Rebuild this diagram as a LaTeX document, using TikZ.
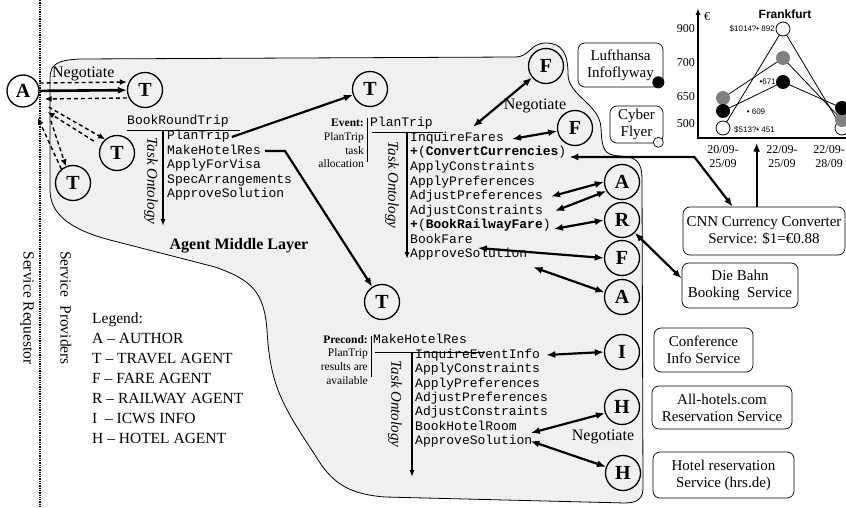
\documentclass[tikz,border=0pt]{standalone}
\usepackage{fontspec}
\setmainfont{Liberation Serif}
\setsansfont{Liberation Sans}
\setmonofont{Liberation Mono}
\usetikzlibrary{arrows.meta}

\tikzset{
  agent/.style={circle, draw, line width=1.3pt, minimum size=35pt, inner sep=0pt,
    font=\fontsize{20}{20}\selectfont\bfseries},
  service/.style={draw, line width=0.7pt, rounded corners=7pt, align=center, inner sep=0pt,
    font=\fontsize{15}{17}\selectfont},
  task/.style={anchor=west, inner sep=0pt, text height=9pt, text depth=3pt,
    font=\fontsize{13}{13}\selectfont\ttfamily},
  onto/.style={rotate=-90, inner sep=0pt, font=\fontsize{15}{15}\selectfont\itshape},
  sidenote/.style={anchor=north east, align=right, inner sep=0pt, font=\fontsize{11.5}{13.7}\selectfont},
  bigtext/.style={font=\fontsize{15.5}{20}\selectfont},
  chartlbl/.style={inner sep=0pt, font=\fontsize{12}{14}\selectfont},
  pricelbl/.style={inner sep=0pt, font=\sffamily\fontsize{8}{8}\selectfont},
  link/.style={line width=2.2pt, {Latex[length=9pt,width=7pt]}-{Latex[length=9pt,width=7pt]}},
  oneway/.style={line width=2.2pt, -{Latex[length=9pt,width=7pt]}},
  negline/.style={line width=1.4pt, dash pattern=on 4pt off 3pt, -{Latex[length=7pt,width=6pt]}},
  ontoarrow/.style={line width=1.3pt, -{Latex[length=7pt,width=5pt]}},
}

\begin{document}
\begin{tikzpicture}[x=1pt,y=-1pt]
\useasboundingbox (0,0) rectangle (846,508);

% agent middle layer
\filldraw[fill=black!6, line width=0.8pt]
  (50,78) .. controls (50,64) and (58,60) .. (80,59)
  -- (515,57)
  .. controls (530,57) and (530,43) .. (546,43)
  .. controls (563,43) and (568,55) .. (568,74)
  .. controls (568,96) and (600,104) .. (601,128)
  .. controls (602,150) and (604,155) .. (620,156)
  .. controls (637,157) and (642,162) .. (642,180)
  -- (643,488)
  .. controls (643,498) and (638,503) .. (625,503)
  -- (385,497)
  .. controls (345,494) and (330,480) .. (315,455)
  .. controls (282,405) and (270,385) .. (267,330)
  .. controls (264,292) and (252,280) .. (215,267)
  -- (110,240)
  .. controls (72,230) and (50,215) .. (50,190)
  -- cycle;
\node[font=\fontsize{16}{16}\selectfont\bfseries] (aml) at (239,246) {Agent Middle Layer};

\draw[line width=1.3pt, densely dotted] (40,0) -- (40,508);
\node[bigtext, rotate=-90] (req) at (27,308) {Service Requestor};
\node[bigtext, rotate=-90] (prov) at (66,308) {Service\ \ Providers};

\node[bigtext, anchor=north west, align=left, inner sep=0pt] (legend) at (92,313)
  {Legend:\\A -- AUTHOR\\T -- TRAVEL AGENT\\F -- FARE AGENT\\R -- RAILWAY AGENT\\I\ \ -- ICWS INFO\\H -- HOTEL AGENT};

% agents
\node[agent, minimum size=32pt] (a) at (23,91) {A};
\node[agent] (t1) at (145,90) {T};
\node[agent] (t2) at (117,153) {T};
\node[agent] (t3) at (73,183) {T};
\node[agent] (tp) at (370,89) {T};
\node[agent] (tm) at (382,302) {T};
\node[agent] (f1) at (546,66) {F};
\node[agent] (f2) at (575,128) {F};
\node[agent] (a1) at (622,182) {A};
\node[agent] (rw) at (622,220) {R};
\node[agent] (f3) at (622,258) {F};
\node[agent] (a2) at (622,297) {A};
\node[agent] (ic) at (622,352) {I};
\node[agent] (h1) at (622,407) {H};
\node[agent] (h2) at (623,473) {H};

% requestor to travel agents
\draw[oneway, line width=2.6pt] (a) -- (t1);
\draw[negline] ([yshift=8pt]a.east) -- node[above, inner sep=1pt, font=\fontsize{16}{16}\selectfont] (neg1) {Negotiate} ([yshift=8pt]t1.west);
\draw[negline] ([yshift=-8pt]t1.west) -- ([xshift=5pt,yshift=-8pt]a.east);
\draw[negline] ([xshift=9pt,yshift=-16pt]a.east) -- (t2.131);
\draw[negline, shorten <=8pt] (t2.155) -- ([xshift=8pt,yshift=-21pt]a.east);
\draw[negline] ([xshift=16pt,yshift=-18pt]a.south east) -- (t3.113);
\draw[negline] (t3.130) -- ([xshift=3pt,yshift=-15pt]a.south east);

% BookRoundTrip ontology
\node[task] (brt) at (127,122) {BookRoundTrip};
\draw[line width=0.8pt] (127,130) -- (240,130);
\draw[ontoarrow] (163,130) -- (163,226);
\node[task] (b1) at (167,137) {PlanTrip};
\node[task] (b2) at (167,151) {MakeHotelRes};
\node[task] (b3) at (167,165) {ApplyForVisa};
\node[task] (b4) at (167,180) {SpecArrangements};
\node[task] (b5) at (167,194) {ApproveSolution};
\node[onto] (o1) at (151,181) {Task Ontology};

% PlanTrip ontology
\node[sidenote] (evt) at (364,119) {\textbf{Event:}\\PlanTrip\\task\\allocation};
\draw[line width=0.8pt] (367,118) -- (367,162);
\node[task] (pt) at (370,124) {PlanTrip};
\draw[line width=0.8pt] (372,132) -- (443,132);
\draw[ontoarrow] (407,132) -- (407,259);
\node[task] (c1) at (410,139) {InquireFares};
\node[task] (c2) at (410,153) {{\bfseries +}(\textbf{ConvertCurrencies})};
\node[task] (c3) at (410,168) {ApplyConstraints};
\node[task] (c4) at (410,182) {ApplyPreferences};
\node[task] (c5) at (410,196.5) {AdjustPreferences};
\node[task] (c6) at (410,211) {AdjustConstraints};
\node[task] (c7) at (410,225) {{\bfseries +}(\textbf{BookRailwayFare})};
\node[task] (c8) at (410,240) {BookFare};
\node[task] (c9) at (410,254) {ApproveSolution};
\node[onto] (o2) at (392,185) {Task Ontology};

% MakeHotelRes ontology
\node[sidenote] (pre) at (368,335) {\textbf{Precond:}\\PlanTrip\\results are\\available};
\draw[line width=0.8pt] (371,336) -- (371,377);
\node[task] (mh) at (373,340) {MakeHotelRes};
\draw[line width=0.8pt] (375,352) -- (485,352);
\draw[ontoarrow] (412,352) -- (412,477);
\node[task] (d1) at (415,355) {InquireEventInfo};
\node[task] (d2) at (415,369) {ApplyConstraints};
\node[task] (d3) at (415,384) {ApplyPreferences};
\node[task] (d4) at (415,398) {AdjustPreferences};
\node[task] (d5) at (415,412) {AdjustConstraints};
\node[task] (d6) at (415,427) {BookHotelRoom};
\node[task] (d7) at (415,441) {ApproveSolution};
\node[onto] (o3) at (395,404) {Task Ontology};

% services
\node[service, minimum width=85pt, minimum height=44pt] (lh) at (620.5,65) {Lufthansa\\Infoflyway};
\fill ([xshift=-5pt,yshift=5pt]lh.south east) circle (6pt);
\node[service, minimum width=53pt, minimum height=37pt] (cf) at (636.5,124.5) {Cyber\\Flyer};
\filldraw[fill=white, line width=0.7pt] ([xshift=-5pt,yshift=1pt]cf.south east) circle (5pt);
\node[service, minimum width=162pt, minimum height=48pt] (cnn) at (764,231) {CNN Currency Converter\\Service: \$1=€0.88};
\node[service, minimum width=116pt, minimum height=45pt] (bahn) at (740,285.5) {Die Bahn\\Booking\ \ Service};
\node[service, minimum width=99pt, minimum height=44pt] (conf) at (703.5,350) {Conference\\Info Service};
\node[service, minimum width=140pt, minimum height=43pt] (allh) at (722,407.5) {All-hotels.com\\Reservation Service};
\node[service, minimum width=141pt, minimum height=46pt] (hrs) at (723.5,475) {Hotel reservation\\Service (hrs.de)};

% chart
\draw[line width=2pt, -{Latex[length=7pt,width=5pt]}] (698,138) -- (698,8);
\draw[line width=1.5pt] (697,138) -- (846,138);
\node[chartlbl, anchor=east] (y900) at (695,29) {900};
\node[chartlbl, anchor=east] (y700) at (695,63) {700};
\node[chartlbl, anchor=east] (y650) at (695,97) {650};
\node[chartlbl, anchor=east] (y500) at (695,124) {500};
\node[chartlbl] (eur) at (707,17) {€};
\node[inner sep=0pt, font=\sffamily\bfseries\fontsize{12}{12}\selectfont] (ffm) at (785,14) {Frankfurt};
\node[chartlbl, align=center] (w1) at (723,157) {20/09-\\25/09};
\node[chartlbl, align=center] (w2) at (782,157) {22/09-\\25/09};
\node[chartlbl, align=center, anchor=east] (w3) at (845,157) {22/09-\\28/09};
\draw[line width=0.8pt] (723,128) -- (783,29) -- (842,128);
\draw[line width=0.8pt] (723,98) -- (783,58) -- (842,120);
\draw[line width=0.8pt] (723,111) -- (783,82) -- (842,108);
\filldraw[fill=white, line width=0.8pt] (723,128) circle (7pt) (783,29) circle (7pt) (842,128) circle (7pt);
\fill[black!50] (723,98) circle (7pt) (783,58) circle (7pt) (842,120) circle (7pt);
\fill (723,111) circle (7pt) (783,82) circle (7pt) (842,108) circle (7pt);
\node[pricelbl, anchor=east] (p892) at (775,29) {\$1014?\textbullet\ 892};
\node[pricelbl, anchor=east] (p671) at (776,82) {\textbullet 671};
\node[pricelbl] (p609) at (756,112) {\textbullet\ 609};
\node[pricelbl, anchor=west] (p451) at (734,130) {\$513?\textbullet\ 451};

% connectors
\draw[oneway] ([xshift=2pt]b1.east) -- (tp);
\draw[oneway] ([xshift=4pt]b2.east) -- ++(20,0) -- (tm);
\draw[link] ([xshift=-31pt,yshift=6pt]c1.north east) -- (f1);
\node[font=\fontsize{16}{16}\selectfont] (neg2) at (535,106) {Negotiate};
\draw[link] ([xshift=8pt]c1.east) -- (f2);
\draw[link] ([xshift=3pt,yshift=-4pt]c2.east) -- ++(125,0) -- ([xshift=50pt]cnn.north west);
\draw[oneway] ([xshift=74pt]cnn.north west) -- ++(0,-64);
\draw[link] ([xshift=8pt]c5.east) -- (a1.west);
\draw[link] ([xshift=12pt]c6.east) -- (a1.210);
\draw[link] ([xshift=3pt,yshift=-4pt]c7.east) -- (rw.west);
\draw[link] ([xshift=5pt,yshift=-8pt]c8.east) -- (f3.west);
\draw[link] ([xshift=6pt,yshift=-7pt]c9.south east) -- (a2.165);
\draw[link] (rw.-45) -- ([yshift=7pt]bahn.west);
\draw[link] ([xshift=6pt]d1.east) -- (ic.west);
\draw[link] ([xshift=14pt,yshift=-6pt]d6.east) -- (h1.200);
\draw[link] ([xshift=-2pt]d7.east) -- (h2.160);
\node[font=\fontsize{16}{16}\selectfont] (neg3) at (603,437) {Negotiate};
\end{tikzpicture}
\end{document}
